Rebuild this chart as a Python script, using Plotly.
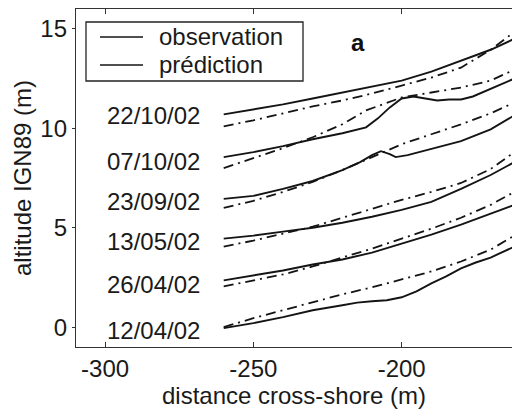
import plotly.graph_objects as go

# ---- data ----
x_std = [-260, -250, -240, -230, -220, -210, -200, -190, -180, -170, -162]

obs_2210_x = x_std
obs_2210_y = [10.7, 10.95, 11.2, 11.5, 11.8, 12.1, 12.4, 12.85, 13.4, 13.95, 14.5]
pred_2210_x = x_std
pred_2210_y = [10.1, 10.4, 10.75, 11.1, 11.4, 11.75, 12.15, 12.55, 13.05, 13.95, 14.85]

obs_0710_x = [-260, -250, -240, -230, -220, -212, -208, -204, -200, -196, -192, -188, -184, -180, -176, -172, -167, -162]
obs_0710_y = [8.55, 8.8, 9.1, 9.45, 9.75, 10.05, 10.5, 11.05, 11.5, 11.6, 11.5, 11.4, 11.45, 11.45, 11.6, 11.85, 12.15, 12.5]
pred_0710_x = [-260, -250, -240, -230, -220, -212, -205, -200, -190, -180, -170, -162]
pred_0710_y = [8.0, 8.5, 9.0, 9.55, 10.2, 10.9, 11.3, 11.55, 11.8, 12.05, 12.4, 12.95]

obs_2309_x = [-260, -250, -240, -230, -220, -214, -210, -207, -204, -202, -198, -190, -180, -170, -162]
obs_2309_y = [6.45, 6.6, 6.95, 7.35, 7.9, 8.3, 8.65, 8.85, 8.7, 8.55, 8.65, 8.95, 9.35, 9.95, 10.65]
pred_2309_x = x_std
pred_2309_y = [6.0, 6.35, 6.8, 7.3, 7.9, 8.55, 9.2, 9.7, 10.2, 10.75, 11.3]

obs_1305_x = x_std
obs_1305_y = [4.45, 4.6, 4.8, 5.0, 5.25, 5.55, 5.9, 6.3, 6.95, 7.65, 8.3]
pred_1305_x = x_std
pred_1305_y = [4.05, 4.35, 4.7, 5.05, 5.5, 5.95, 6.4, 6.8, 7.25, 7.95, 8.8]

obs_2604_x = x_std
obs_2604_y = [2.35, 2.6, 2.85, 3.15, 3.4, 3.75, 4.2, 4.65, 5.15, 5.7, 6.15]
pred_2604_x = x_std
pred_2604_y = [2.05, 2.35, 2.65, 3.05, 3.5, 3.95, 4.45, 4.95, 5.5, 6.15, 6.8]

obs_1204_x = [-260, -250, -240, -230, -220, -215, -210, -205, -200, -195, -190, -185, -180, -175, -170, -162]
obs_1204_y = [-0.05, 0.2, 0.5, 0.85, 1.1, 1.23, 1.3, 1.35, 1.5, 1.8, 2.2, 2.55, 2.95, 3.25, 3.5, 4.05]
pred_1204_x = x_std
pred_1204_y = [0.0, 0.45, 0.85, 1.25, 1.65, 2.0, 2.4, 2.8, 3.3, 3.9, 4.6]

date_labels = ["22/10/02", "07/10/02", "23/09/02", "13/05/02", "26/04/02", "12/04/02"]
date_label_y = [10.65, 8.32, 6.34, 4.32, 2.15, -0.16]

x_tickvals = [-300, -250, -200]
x_ticktext = ["-300", "-250", "-200"]
y_tickvals = [0, 5, 10, 15]
y_ticktext = ["0", "5", "10", "15"]

legend_names = ["observation", "prédiction"]

# ---- figure ----
FONT = "Arial, 'Liberation Sans', Helvetica, sans-serif"
LINE_COLOR = "#141414"
TEXT_COLOR = "#1a1a1a"
DASH = "10px,5px,2px,5px"

series = [
    (obs_2210_x, obs_2210_y, pred_2210_x, pred_2210_y),
    (obs_0710_x, obs_0710_y, pred_0710_x, pred_0710_y),
    (obs_2309_x, obs_2309_y, pred_2309_x, pred_2309_y),
    (obs_1305_x, obs_1305_y, pred_1305_x, pred_1305_y),
    (obs_2604_x, obs_2604_y, pred_2604_x, pred_2604_y),
    (obs_1204_x, obs_1204_y, pred_1204_x, pred_1204_y),
]

fig = go.Figure()
for ox, oy, px, py in series:
    fig.add_trace(go.Scatter(x=ox, y=oy, mode="lines", name=legend_names[0],
                             line=dict(color=LINE_COLOR, width=1.9),
                             showlegend=False))
    fig.add_trace(go.Scatter(x=px, y=py, mode="lines", name=legend_names[1],
                             line=dict(color=LINE_COLOR, width=1.8, dash=DASH),
                             showlegend=False))

annotations = []
for lab, yy in zip(date_labels, date_label_y):
    annotations.append(dict(x=-300, y=yy, xref="x", yref="y", text=lab,
                            showarrow=False, xanchor="left", yanchor="middle",
                            font=dict(family=FONT, size=24, color=TEXT_COLOR)))
annotations.append(dict(x=-214.7, y=14.3, xref="x", yref="y", text="<b>a</b>",
                        showarrow=False, xanchor="center", yanchor="middle",
                        font=dict(family=FONT, size=24, color="#111")))

# legend drawn as a framed box
L, R, T, B = 76, 512, 9, 347
def px2paper_x(p):
    return (p - L) / (R - L)
def px2paper_y(p):
    return (B - p) / (B - T)

shapes = [
    dict(type="rect", xref="paper", yref="paper",
         x0=px2paper_x(86), x1=px2paper_x(303), y0=px2paper_y(81), y1=px2paper_y(22),
         line=dict(color="#222", width=1.3), fillcolor="white", layer="above"),
]
for name, yp in zip(legend_names, [37, 65]):
    shapes.append(dict(type="line", xref="paper", yref="paper",
                       x0=px2paper_x(100), x1=px2paper_x(143),
                       y0=px2paper_y(yp), y1=px2paper_y(yp),
                       line=dict(color=LINE_COLOR, width=1.7), layer="above"))
    annotations.append(dict(x=px2paper_x(157), y=px2paper_y(yp), xref="paper", yref="paper",
                            text=name, showarrow=False, xanchor="left", yanchor="middle",
                            font=dict(family=FONT, size=24, color=TEXT_COLOR)))

fig.update_layout(
    width=512, height=416,
    margin=dict(l=L, r=512 - R, t=T, b=416 - B, autoexpand=False),
    paper_bgcolor="white", plot_bgcolor="white",
    font=dict(family=FONT, size=24, color=TEXT_COLOR),
    showlegend=False,
    annotations=annotations,
    shapes=shapes,
)
fig.update_xaxes(
    range=[-309.8, -162.8], tickmode="array", tickvals=x_tickvals, ticktext=x_ticktext,
    ticks="inside", ticklen=5, tickcolor="#333", tickwidth=1,
    showline=True, linecolor="#333", linewidth=1.2, mirror="ticks",
    showgrid=False, zeroline=False, ticklabelstandoff=0,
    tickfont=dict(family=FONT, size=24, color=TEXT_COLOR),
    title=dict(text="distance cross-shore (m)", font=dict(family=FONT, size=24, color=TEXT_COLOR), standoff=4),
    automargin=False,
)
fig.update_yaxes(
    range=[-1, 16], tickmode="array", tickvals=y_tickvals, ticktext=y_ticktext,
    ticks="outside", ticklen=3, tickcolor="#333", tickwidth=1,
    showline=True, linecolor="#333", linewidth=1.2, mirror=False,
    showgrid=False, zeroline=False,
    tickfont=dict(family=FONT, size=24, color=TEXT_COLOR),
    title=dict(text="altitude IGN89 (m)", font=dict(family=FONT, size=24, color=TEXT_COLOR), standoff=1),
    automargin=False,
)

fig.write_html("out.html",
               config={"displayModeBar": False, "staticPlot": True},
               post_script="document.body.style.margin='0';document.body.style.overflow='hidden';")
